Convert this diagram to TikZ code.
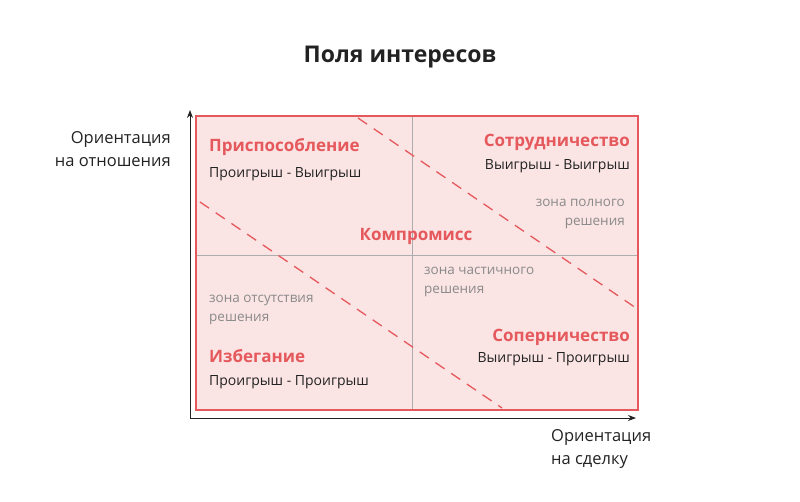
\documentclass[tikz,border=0pt]{standalone}
\usepackage{fontspec}
\setmainfont{Open Sans}
\usetikzlibrary{arrows.meta}
\definecolor{rd}{HTML}{E5585C}
\definecolor{pk}{HTML}{FBE4E4}
\definecolor{gr}{HTML}{8A8A8A}
\definecolor{tx}{HTML}{222222}
\tikzset{
 hd/.style={font=\fontsize{17}{20}\selectfont\bfseries, text=rd, inner sep=0},
 sb/.style={font=\fontsize{14}{17}\selectfont, text=tx, inner sep=0},
 zn/.style={font=\fontsize{13.5}{19}\selectfont, text=gr, inner sep=0, align=left},
 ax/.style={font=\fontsize{16.5}{23}\selectfont, text=tx, inner sep=0},
 dl/.style={rd, line width=1.3pt, dash pattern=on 11pt off 8pt}
}
\begin{document}
\begin{tikzpicture}[x=1pt,y=-1pt]
\useasboundingbox (0,0) rectangle (800,501);
\node[font=\fontsize{23}{28}\selectfont\bfseries, text=tx] (title) at (400,57) {Поля интересов};
\fill[pk] (196,116) rectangle (638,410);
\draw[gr!70, line width=0.8pt] (412,116) -- (412,410) (196,255) -- (638,255);
\coordinate (d1a) at (358,118); \coordinate (d1b) at (636,308);
\coordinate (d2a) at (200,202); \coordinate (d2b) at (502,408);
\draw[dl] (d1a) -- (d1b);
\draw[dl] (d2a) -- (d2b);
\draw[rd, line width=2.5pt] (196,116) rectangle (638,410);
\coordinate (o) at (190,418); \coordinate (yt) at (190,110); \coordinate (xt) at (636,418);
\draw[tx, line width=0.8pt, -{Stealth[length=8pt,width=6pt]}] (o) -- (yt);
\draw[tx, line width=0.8pt, -{Stealth[length=8pt,width=6pt]}] (o) -- (xt);
\node[hd, anchor=west] (a1) at (209,147) {Приспособление};
\node[sb, anchor=west] (a2) at (209,174) {Проигрыш - Выигрыш};
\node[hd, anchor=east] (b1) at (630,142) {Сотрудничество};
\node[sb, anchor=east] (b2) at (630,166) {Выигрыш - Выигрыш};
\node[zn, anchor=east, align=right] (zf) at (625,214) {зона полного\\решения};
\node[hd] (c) at (416,236) {Компромисс};
\node[zn, anchor=west] (zp) at (424,282) {зона частичного\\решения};
\node[zn, anchor=west] (zo) at (209,310) {зона отсутствия\\решения};
\node[hd, anchor=west] (d1) at (209,356) {Избегание};
\node[sb, anchor=west] (d2) at (209,382) {Проигрыш - Проигрыш};
\node[hd, anchor=east] (e1) at (630,337) {Соперничество};
\node[sb, anchor=east] (e2) at (630,359) {Выигрыш - Проигрыш};
\node[ax, anchor=east, align=right] (ya) at (171,149) {Ориентация\\на отношения};
\node[ax, anchor=west, align=left] (xa) at (551,449) {Ориентация\\на сделку};
\end{tikzpicture}
\end{document}
